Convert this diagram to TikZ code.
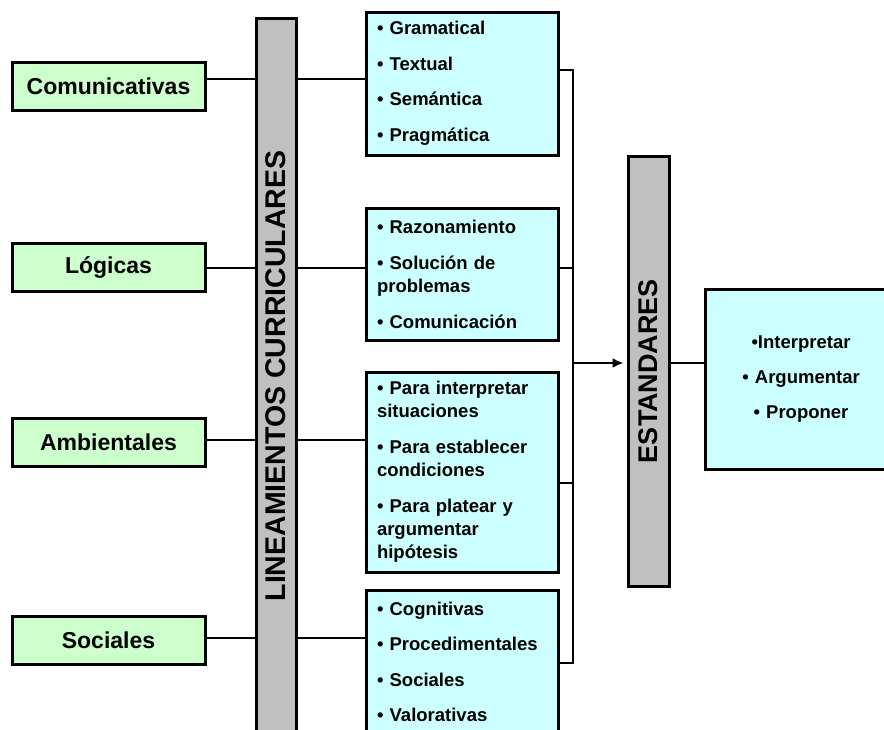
\documentclass[tikz,border=0pt]{standalone}
\usepackage{fontspec}
\setmainfont{Liberation Sans}
\usepackage{tikz}
\usetikzlibrary{arrows.meta}

\definecolor{verde}{HTML}{CCFFCC}
\definecolor{celeste}{HTML}{CCFFFF}
\definecolor{gris}{HTML}{C0C0C0}

\tikzset{
  comp/.style={draw, line width=3pt, fill=verde, minimum width=193, minimum height=48,
    font=\bfseries\fontsize{23}{26}\selectfont},
  lista/.style={draw, line width=3pt, fill=celeste, align=left, text width=170,
    inner xsep=11, minimum width=192, font=\bfseries\fontsize{18.5}{23}\selectfont},
  barra/.style={draw, line width=3pt, fill=gris, rotate=90, inner sep=0pt},
  linea/.style={line width=2.5pt}
}

\begin{document}
\begin{tikzpicture}[auto, x=1pt, y=-1pt]
    \useasboundingbox (0,0) rectangle (884,729);
    \clip (0,0) rectangle (884,729);
    % competencias
    \node[comp] (com) at (108.5, 86) {Comunicativas};
    \node[comp] (log) at (108.5, 267) {Lógicas};
    \node[comp] (amb) at (108.5, 442.5) {Ambientales};
    \node[comp] (soc) at (108.5, 640) {Sociales};
    % barras
    \node[barra, minimum width=716, minimum height=40,
      font=\bfseries\fontsize{28.5}{30}\selectfont] (lin) at (276, 376) {LINEAMIENTOS CURRICULARES};
    \node[barra, minimum width=430, minimum height=41,
      font=\bfseries\fontsize{27}{30}\selectfont] (est) at (648.5, 371) {ESTANDARES};
    % listas
    \node[lista, minimum height=143] (gra) at (462, 83.5)
      {• Gramatical\\[12.5pt] • Textual\\[12.5pt] • Semántica\\[12.5pt] • Pragmática};
    \node[lista, minimum height=132] (raz) at (462, 274)
      {• Razonamiento\\[13pt] • Solución de\\ problemas\\[13pt] • Comunicación};
    \node[lista, minimum height=200] (par) at (462, 472)
      {• Para interpretar\\ situaciones\\[13pt] • Para establecer\\ condiciones\\[13pt] • Para platear y\\ argumentar\\ hipótesis};
    \node[lista, minimum height=144] (cog) at (462, 662)
      {• Cognitivas\\[12.5pt] • Procedimentales\\[12.5pt] • Sociales\\[12.5pt] • Valorativas};
    \node[lista, align=center, minimum height=180] (res) at (801, 379)
      {•Interpretar\\[12pt] • Argumentar\\[12pt] • Proponer};
    % puntos de union
    \coordinate (r1) at (0, 79);
    \coordinate (r2) at (0, 268);
    \coordinate (r3) at (0, 440);
    \coordinate (r4) at (0, 638);
    \coordinate (b1) at (573, 70);
    \coordinate (b2) at (573, 268);
    \coordinate (b3) at (573, 483);
    \coordinate (b4) at (573, 663);
    \coordinate (a) at (573, 363);
    % conexiones
    \draw[linea] (r1 -| com.east) to (r1 -| lin.north);
    \draw[linea] (r2 -| log.east) to (r2 -| lin.north);
    \draw[linea] (r3 -| amb.east) to (r3 -| lin.north);
    \draw[linea] (r4 -| soc.east) to (r4 -| lin.north);
    \draw[linea] (r1 -| lin.south) to (r1 -| gra.west);
    \draw[linea] (r2 -| lin.south) to (r2 -| raz.west);
    \draw[linea] (r3 -| lin.south) to (r3 -| par.west);
    \draw[linea] (r4 -| lin.south) to (r4 -| cog.west);
    \draw[line width=2pt] (b1 -| gra.east) -- (b1) -- (b4) -- (b4 -| cog.east);
    \draw[line width=2pt] (b2 -| raz.east) to (b2);
    \draw[line width=2pt] (b3 -| par.east) to (b3);
    \draw[line width=2pt, -{Latex[length=11pt,width=10pt]}] (a) to ([xshift=-3pt]a -| est.north);
    \draw[linea] (a -| est.south) to (a -| res.west);
  \end{tikzpicture}
\end{document}
